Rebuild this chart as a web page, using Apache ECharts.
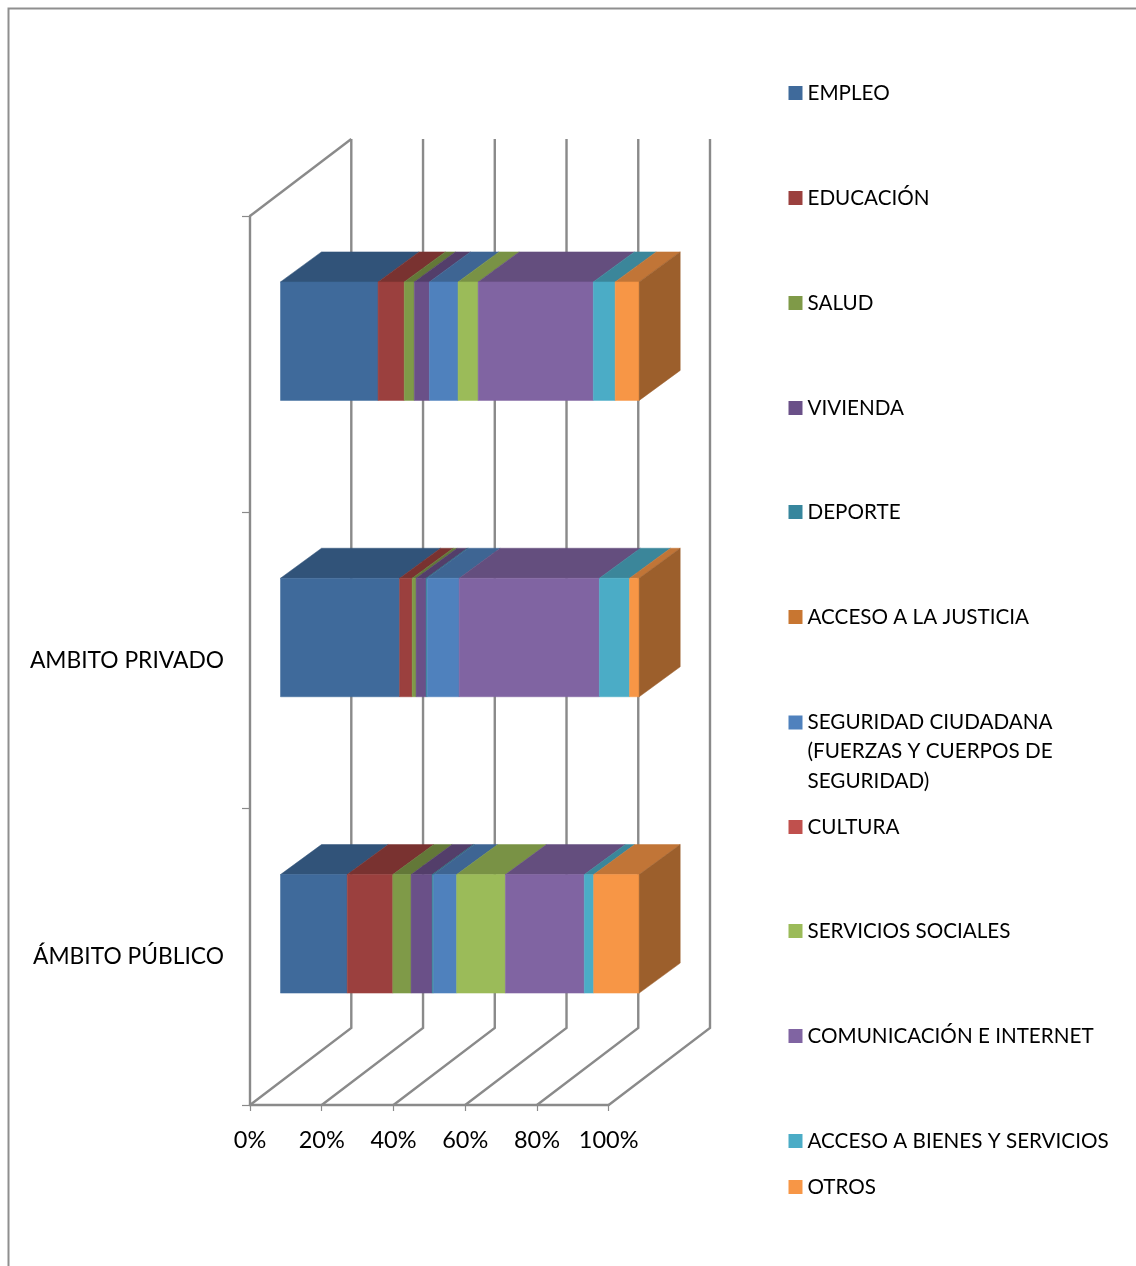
<!DOCTYPE html>
<html>
<head>
<meta charset="utf-8">
<style>html,body{margin:0;padding:0;background:#fff}#c{width:1136px;height:1266px}</style>
<script src="https://cdn.jsdelivr.net/npm/echarts@6/dist/echarts.min.js"></script>
</head>
<body>
<div id="c"></div>
<script>
// order of categories: bottom to top
const categories = ['ÁMBITO PÚBLICO', 'AMBITO PRIVADO', ''];
const xTicks = [0, 20, 40, 60, 80, 100];

const empleo      = [18.6, 33.2, 27.2];
const educacion   = [12.7, 3.5, 7.3];
const salud       = [5.1, 1.1, 2.8];
const vivienda    = [5.9, 2.8, 4.2];
const deporte     = [0.4, 0.3, 0];
const justicia    = [0, 0, 0];
const seguridad   = [6.4, 8.9, 8.0];
const cultura     = [0, 0, 0];
const servicios   = [13.6, 0, 5.6];
const comunicacion= [22.0, 39.1, 32.1];
const bienes      = [2.6, 8.4, 6.1];
const otros       = [12.7, 2.7, 6.7];

const names = ['EMPLEO','EDUCACIÓN','SALUD','VIVIENDA','DEPORTE','ACCESO A LA JUSTICIA',
  'SEGURIDAD CIUDADANA (FUERZAS Y CUERPOS DE SEGURIDAD)','CULTURA','SERVICIOS SOCIALES',
  'COMUNICACIÓN E INTERNET','ACCESO A BIENES Y SERVICIOS','OTROS'];
const values = [empleo,educacion,salud,vivienda,deporte,justicia,seguridad,cultura,servicios,comunicacion,bienes,otros];
const colors = ['#3F6A9B','#9B403E','#7F9A48','#6A5088','#37869D','#C87631',
  '#4F81BD','#C0504D','#9BBB59','#8064A2','#4BACC6','#F79646'];
const legendCenters = [92,197,302,407,511,616,721,826,930,1035,1140,1186];

const FONT = 'Lato';
const GRAY = '#8a8a8a';
// oblique projection offsets
const WALL = [101.3, -77], BAR_FRONT = [30.5, -23], BAR_BACK = [71.5, -53];

function shade(hex, k) {
  const n = parseInt(hex.slice(1), 16);
  const ch = s => Math.round(((n >> s) & 255) * k);
  return 'rgb(' + ch(16) + ',' + ch(8) + ',' + ch(0) + ')';
}

function renderWall(params, api) {
  const v = api.value(0);
  const cs = params.coordSys;
  const x = api.coord([v, 0])[0], b = cs.y + cs.height, t = cs.y;
  const children = [{
    type: 'polyline',
    shape: { points: [[x, b], [x + WALL[0], b + WALL[1]], [x + WALL[0], t + WALL[1]]] },
    style: { fill: 'none', stroke: GRAY, lineWidth: 2.4 }
  }];
  if (v === 0) children.push({
    type: 'line',
    shape: { x1: x, y1: t, x2: x + WALL[0], y2: t + WALL[1] },
    style: { stroke: GRAY, lineWidth: 2.4 }
  });
  return { type: 'group', children };
}

function makeBar(color, isLast) {
  const top = shade(color, 0.78), side = shade(color, 0.63);
  return function (params, api) {
    const start = api.value(0), val = api.value(2);
    if (!val) return null;
    const c = api.value(1);
    const p0 = api.coord([start, c]), p1 = api.coord([start + val, c]);
    const h = api.size([0, 1])[1] * 0.4;
    const x0 = p0[0] + BAR_FRONT[0], x1 = p1[0] + BAR_FRONT[0];
    const yt = p0[1] - h / 2 + BAR_FRONT[1], yb = yt + h;
    const dx = BAR_BACK[0] - BAR_FRONT[0], dy = BAR_BACK[1] - BAR_FRONT[1];
    const face = (pts, col) => ({ type: 'polygon', shape: { points: pts }, style: { fill: col, stroke: col, lineWidth: 0.5 } });
    const children = [
      face([[x0, yt], [x1, yt], [x1 + dx, yt + dy], [x0 + dx, yt + dy]], top),
      face([[x0, yt], [x1, yt], [x1, yb], [x0, yb]], color)
    ];
    if (isLast) children.push(face([[x1, yt], [x1 + dx, yt + dy], [x1 + dx, yb + dy], [x1, yb]], side));
    return { type: 'group', children };
  };
}

const series = [{
  type: 'custom', name: 'walls', silent: true, z: 1,
  renderItem: renderWall, encode: { x: 0 },
  data: xTicks.map(v => [v])
}];
names.forEach((name, s) => {
  series.push({
    type: 'custom', name, silent: true, z: 2,
    itemStyle: { color: colors[s] },
    renderItem: makeBar(colors[s], s === names.length - 1),
    encode: { x: 0, y: 1 },
    data: categories.map((c, i) => {
      let start = 0;
      for (let k = 0; k < s; k++) start += values[k][i];
      return [start, i, values[s][i]];
    })
  });
});

const LH = 29.5;
const legends = names.map((name, i) => {
  const multi = name.startsWith('SEGURIDAD');
  return {
    data: [name], orient: 'vertical', left: 788.5,
    top: legendCenters[i] - LH / 2 + 1,
    padding: 0, selectedMode: false,
    itemWidth: 14, itemHeight: multi ? 88 : 14,
    icon: multi ? 'path://M0 8H14V22H0ZM0 0V88' : 'rect',
    formatter: n => n.replace('CIUDADANA ', 'CIUDADANA\n').replace('CUERPOS DE ', 'CUERPOS DE\n'),
    textStyle: { fontFamily: FONT, fontSize: 20.65, color: '#000', lineHeight: LH }
  };
});

const chart = echarts.init(document.getElementById('c'), null, { renderer: 'canvas' });
chart.setOption({
  animation: false,
  backgroundColor: '#fff',
  grid: { left: 250, top: 216, width: 358.7, height: 889, containLabel: false },
  xAxis: {
    type: 'value', min: 0, max: 100, interval: 20,
    axisLine: { show: true, lineStyle: { color: GRAY, width: 2.4 } },
    axisTick: { show: true, length: 6, lineStyle: { color: GRAY, width: 1.2 } },
    splitLine: { show: false },
    axisLabel: { formatter: '{value}%', margin: 23, fontFamily: FONT, fontSize: 23.5, color: '#000', hideOverlap: false, showMaxLabel: true, showMinLabel: true }
  },
  yAxis: {
    type: 'category', data: categories,
    axisLine: { show: true, lineStyle: { color: GRAY, width: 2.4 } },
    axisTick: { show: true, length: 8, lineStyle: { color: GRAY, width: 1.2 } },
    splitLine: { show: false },
    axisLabel: { margin: 26, fontFamily: FONT, fontSize: 22.8, color: '#000', align: 'right', padding: [4, 0, 0, 0] }
  },
  legend: legends,
  graphic: [{
    type: 'polyline', silent: true,
    shape: { points: [[8.5, 1266], [8.5, 8.5], [1136, 8.5]] },
    style: { fill: 'none', stroke: '#8f8f8f', lineWidth: 2 }
  }],
  series
});
</script>
</body>
</html>
